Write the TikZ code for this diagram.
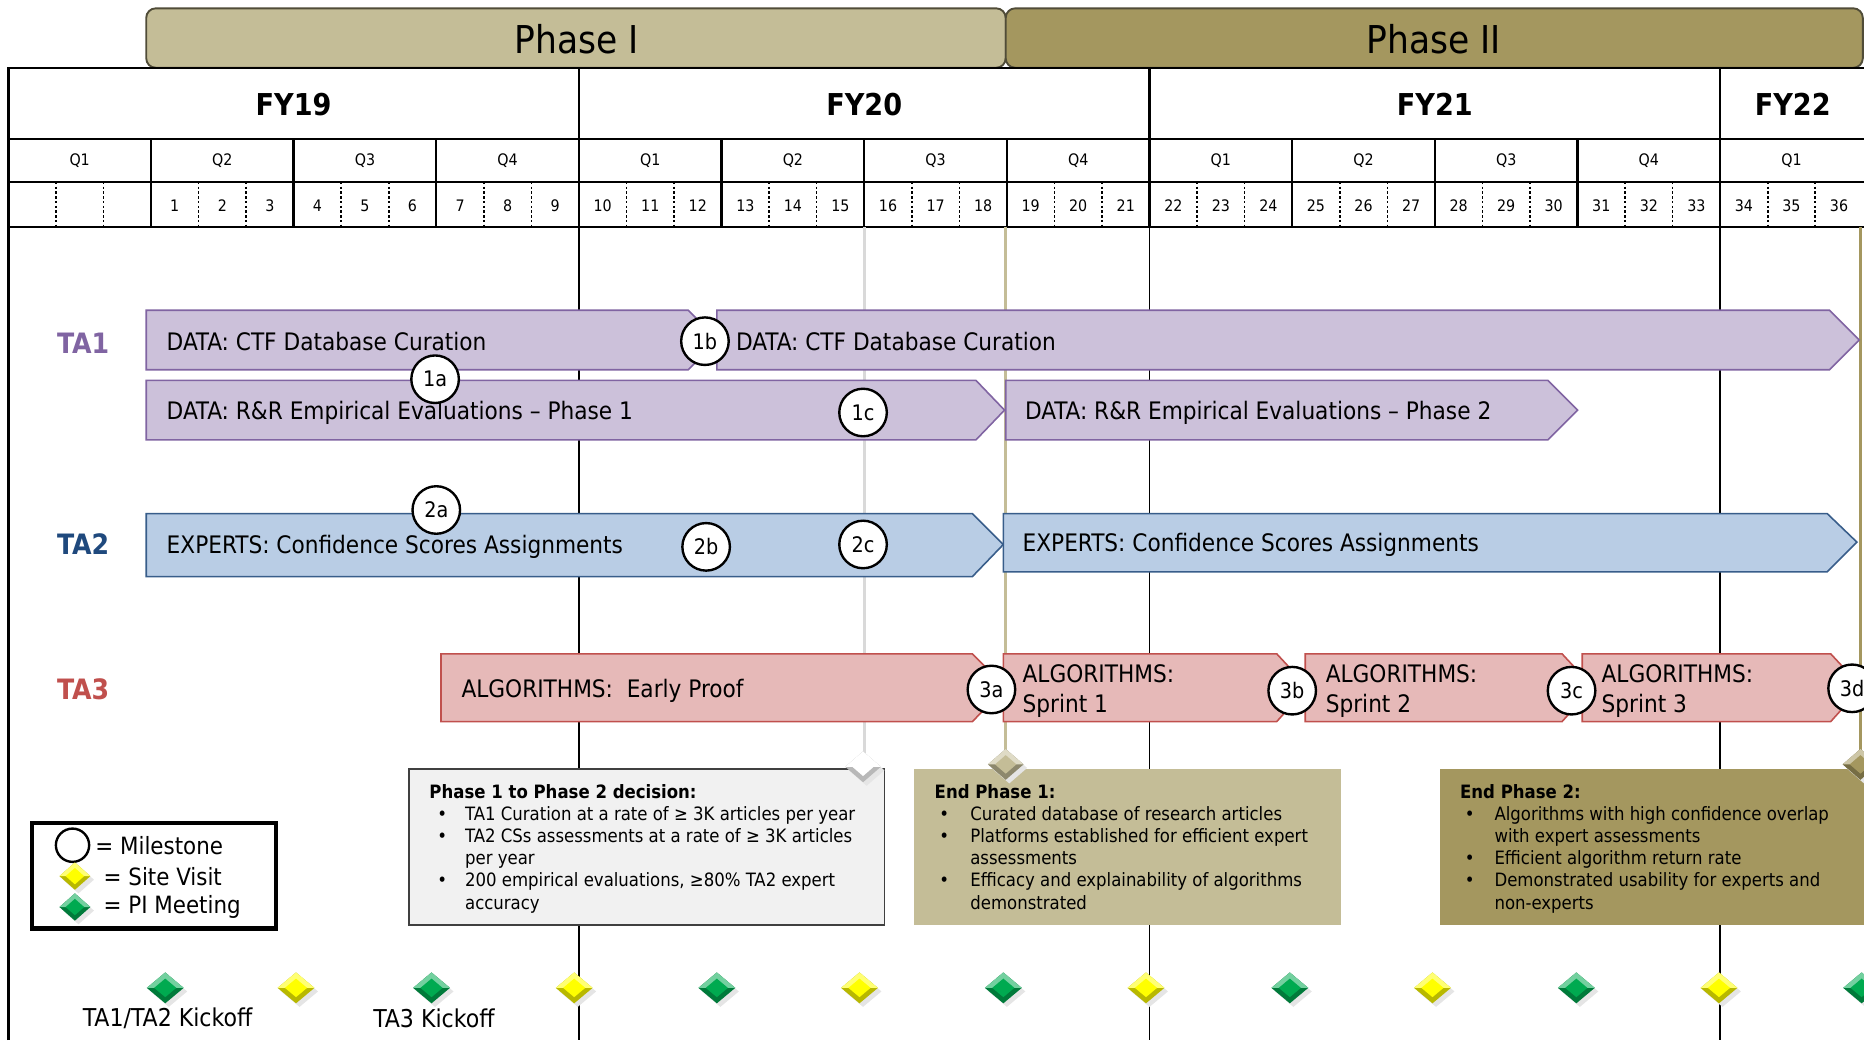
\documentclass[tikz,border=0pt]{standalone}
\usepackage{fontspec}
\setmainfont{DejaVu Sans Condensed}[BoldFont={DejaVu Sans Condensed Bold}]

\definecolor{phaseone}{RGB}{196,189,151}
\definecolor{phasetwo}{RGB}{164,151,95}
\definecolor{phaseline}{RGB}{80,76,56}
\definecolor{tapurple}{RGB}{128,100,162}
\definecolor{tapurplefill}{RGB}{204,193,218}
\definecolor{tablue}{RGB}{31,73,125}
\definecolor{tablueline}{RGB}{56,93,138}
\definecolor{tabluefill}{RGB}{185,205,229}
\definecolor{tared}{RGB}{192,80,77}
\definecolor{taredfill}{RGB}{230,185,184}
\definecolor{gatelight}{RGB}{217,217,217}
\definecolor{decisionfill}{RGB}{241,241,241}
\definecolor{sitevisit}{RGB}{255,255,0}
\definecolor{pimeet}{RGB}{0,170,80}

\newcommand{\sz}[2]{\fontsize{#1}{#2}\selectfont}
% bevelled diamond: centre x, centre y, colour, half width, half height
\newcommand{\gem}[5]{%
  \fill[black!10] (#1+3,#2-#5+3) -- (#1+#4+3,#2+3) -- (#1+3,#2+#5+3) -- (#1-#4+3,#2+3) -- cycle;
  \fill[#3!72!black] (#1,#2-#5) -- (#1+#4,#2) -- (#1,#2+#5) -- (#1-#4,#2) -- cycle;
  \fill[#3!55!white] (#1,#2-#5) -- (#1+#4,#2) -- (#1,#2) -- (#1-#4,#2) -- cycle;
  \fill[#3] (#1,#2-0.6*#5) -- (#1+0.6*#4,#2) -- (#1,#2+0.6*#5) -- (#1-0.6*#4,#2) -- cycle;
}

\begin{document}
\begin{tikzpicture}[x=0.75pt,y=0.75pt,yscale=-1,xscale=1,
  every node/.style={inner sep=0pt},
  phasebox/.style={draw=phaseline, line width=1.2pt, rounded corners=6pt},
  grid/.style={line width=1.5pt},
  fyline/.style={line width=1.1pt},
  monthsep/.style={line width=1pt, dash pattern=on 1.5pt off 1.5pt},
  gate/.style={line width=2.2pt},
  barpurple/.style={draw=tapurple, fill=tapurplefill, line width=1pt},
  barblue/.style={draw=tablueline, fill=tabluefill, line width=1pt},
  barred/.style={draw=tared, fill=taredfill, line width=1pt},
  bartext/.style={anchor=west, font=\sz{15.2pt}{18.8pt}},
  talabel/.style={font=\sz{17.7pt}{21pt}\bfseries},
  mile/.style={circle, draw=black, fill=white, line width=1.5pt, minimum size=30pt, font=\sz{13.5pt}{16pt}},
  notes/.style={anchor=north west, font=\sz{11.6pt}{14pt}},
  legendtext/.style={anchor=west, font=\sz{15pt}{18pt}}]
\useasboundingbox (0,0) rectangle (1568,875);
\clip (0,0) rectangle (1568,875);

%Phase headers
\draw[phasebox, fill=phaseone] (123,7) rectangle (846,57);
\draw[phasebox, fill=phasetwo] (846,7) rectangle (1567,57);
\node[font=\sz{24.2pt}{29pt}] (phaseI) at (485,33) {Phase I};
\node[font=\sz{24.2pt}{29pt}] (phaseII) at (1206,33) {Phase II};

%Time grid
\draw[grid] (7,875) -- (7,57) -- (1568,57);
\draw[grid] (7,117) -- (1568,117) (7,153) -- (1568,153) (7,191) -- (1568,191);
\foreach \q in {1,...,12} \draw[grid] (7+120*\q,117) -- (7+120*\q,191);
\foreach \x in {487,967,1447} {
  \draw[grid] (\x,57) -- (\x,117);
  \draw[fyline] (\x,191) -- (\x,875);
}
\foreach \q in {0,...,12} \foreach \k in {1,2} \draw[monthsep] (7+120*\q+40*\k,153) -- (7+120*\q+40*\k,191);

% Text Node
\foreach \fy/\x in {19/247,20/727,21/1207,22/1508} \node[font=\sz{19pt}{22pt}\bfseries] (fy\fy) at (\x,88) {FY\fy};
\foreach \qq [count=\i from 0] in {Q1,Q2,Q3,Q4,Q1,Q2,Q3,Q4,Q1,Q2,Q3,Q4,Q1} \node[font=\sz{10pt}{12pt}] (qt\i) at (67+120*\i,135) {\qq};
\foreach \k in {1,...,36} \node[font=\sz{10pt}{12pt}] (mo\k) at (107+40*\k,173) {\k};

%Decision lines
\draw[gate, draw=gatelight] (727,191) -- (727,640);
\draw[gate, draw=phaseone] (846,191) -- (846,640);
\draw[gate, draw=phasetwo] (1565,191) -- (1565,640);

%Shape: Pentagon Arrows
\draw[barpurple] (123,261) -- (579,261) -- (604,286) -- (579,311) -- (123,311) -- cycle;
\draw[barpurple] (603,261) -- (1539,261) -- (1564,286) -- (1539,311) -- (603,311) -- cycle;
\draw[barpurple] (123,320) -- (821,320) -- (845,345) -- (821,370) -- (123,370) -- cycle;
\draw[barpurple] (846,320) -- (1302,320) -- (1327,345) -- (1302,370) -- (846,370) -- cycle;
\draw[barblue] (123,432) -- (818,432) -- (844,458) -- (818,485) -- (123,485) -- cycle;
\draw[barblue] (844,432) -- (1537,432) -- (1562,456) -- (1537,481) -- (844,481) -- cycle;
\draw[barred] (371,550) -- (818,550) -- (846,578) -- (818,607) -- (371,607) -- cycle;
\draw[barred] (844,550) -- (1074,550) -- (1100,578) -- (1074,607) -- (844,607) -- cycle;
\draw[barred] (1098,550) -- (1314,550) -- (1340,578) -- (1314,607) -- (1098,607) -- cycle;
\draw[barred] (1331,550) -- (1540,550) -- (1566,578) -- (1540,607) -- (1331,607) -- cycle;

% Text Node
\node[bartext] (curone) at (140,287) {DATA: CTF Database Curation};
\node[bartext] (curtwo) at (619,287) {DATA: CTF Database Curation};
\node[bartext] (rrone) at (140,347) {DATA: R\&R Empirical Evaluations – Phase 1};
\node[bartext] (rrtwo) at (862,347) {DATA: R\&R Empirical Evaluations – Phase 2};
\node[bartext] (expone) at (140,460) {EXPERTS: Confidence Scores Assignments};
\node[bartext] (exptwo) at (860,458) {EXPERTS: Confidence Scores Assignments};
\node[bartext] (algproof) at (388,581) {ALGORITHMS:\ \ Early Proof};
\node[bartext, align=left] (algone) at (860,581) {ALGORITHMS:\\Sprint 1};
\node[bartext, align=left] (algtwo) at (1115,581) {ALGORITHMS:\\Sprint 2};
\node[bartext, align=left] (algthree) at (1347,581) {ALGORITHMS:\\Sprint 3};

\node[talabel, text=tapurple] (taone) at (70,289) {TA1};
\node[talabel, text=tablue] (tatwo) at (70,458) {TA2};
\node[talabel, text=tared] (tathree) at (70,580) {TA3};

%Milestones
\node[mile] (m1a) at (366,319) {1a};
\node[mile] (m1b) at (593,287) {1b};
\node[mile] (m1c) at (726,347) {1c};
\node[mile] (m2a) at (367,429) {2a};
\node[mile] (m2b) at (594,460) {2b};
\node[mile] (m2c) at (726,458) {2c};
\node[mile] (m3a) at (834,580) {3a};
\node[mile] (m3b) at (1087,581) {3b};
\node[mile] (m3c) at (1322,581) {3c};
\node[mile] (m3d) at (1558,579) {3d};

%Phase gate boxes
\draw[draw=black!75, fill=decisionfill, line width=1.2pt] (344,647) rectangle (744,778);
\fill[phaseone] (769,647) rectangle (1128,778);
\fill[phasetwo] (1211,647) rectangle (1568,778);

\node[notes] (decision) at (361,658) {\begin{tabular}{@{}p{22.5pt}@{}l@{}}
\multicolumn{2}{@{}l@{}}{\bfseries Phase 1 to Phase 2 decision:}\\
\hspace*{5pt}• & TA1 Curation at a rate of ≥ 3K articles per year\\
\hspace*{5pt}• & TA2 CSs assessments at a rate of ≥ 3K articles\\
 & per year\\
\hspace*{5pt}• & 200 empirical evaluations, ≥80\% TA2 expert\\
 & accuracy
\end{tabular}};
\node[notes] (endone) at (786,658) {\begin{tabular}{@{}p{22.5pt}@{}l@{}}
\multicolumn{2}{@{}l@{}}{\bfseries End Phase 1:}\\
\hspace*{3pt}• & Curated database of research articles\\
\hspace*{3pt}• & Platforms established for efficient expert\\
 & assessments\\
\hspace*{3pt}• & Efficacy and explainability of algorithms\\
 & demonstrated
\end{tabular}};
\node[notes] (endtwo) at (1228,658) {\begin{tabular}{@{}p{21.7pt}@{}l@{}}
\multicolumn{2}{@{}l@{}}{\bfseries End Phase 2:}\\
\hspace*{3pt}• & Algorithms with high confidence overlap\\
 & with expert assessments\\
\hspace*{3pt}• & Efficient algorithm return rate\\
\hspace*{3pt}• & Demonstrated usability for experts and\\
 & non-experts
\end{tabular}};

%Gate markers
\gem{726}{645}{white}{15}{13}
\gem{846}{643}{phaseone}{15}{13}
\gem{1565}{643}{phasetwo}{15}{13}

%Site visits and PI meetings
\foreach \x in {139,363,603,844,1085,1326,1566} {\gem{\x}{831}{pimeet}{15.5}{13}}
\foreach \x in {249,483,723,964,1205,1446} {\gem{\x}{831}{sitevisit}{15.5}{13}}
\node[font=\sz{15.5pt}{18pt}] (kickoffone) at (141,857) {TA1/TA2 Kickoff};
\node[font=\sz{15.5pt}{18pt}] (kickofftwo) at (365,857) {TA3 Kickoff};

%Legend
\draw[line width=2.6pt, fill=white] (27,692) rectangle (232,781);
\node[circle, draw=black, line width=1.5pt, minimum size=21pt] (legmile) at (61,711) {};
\gem{63}{737}{sitevisit}{13}{11.5}
\gem{63}{763}{pimeet}{13}{11.5}
\node[legendtext] (legmiletext) at (80,711) {= Milestone};
\node[legendtext] (legsitetext) at (87,737) {= Site Visit};
\node[legendtext] (legpitext) at (87,763) {= PI Meeting};
\end{tikzpicture}
\end{document}
